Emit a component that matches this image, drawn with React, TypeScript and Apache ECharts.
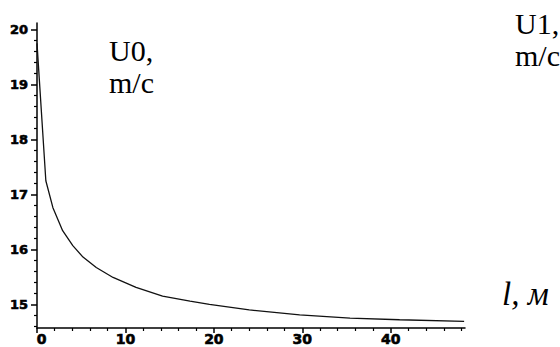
import React, { useEffect, useRef } from "react";
import * as echarts from "echarts";

// Data
const lengthValues = [0, 1.0, 1.8, 2.9, 4.05, 5.2, 6.7, 8.6, 11.2, 14.2, 17.3, 19.5, 24, 29.7, 35.4, 41, 48.3];
const u0Values = [19.75, 17.25, 16.76, 16.34, 16.07, 15.86, 15.67, 15.49, 15.31, 15.15, 15.06, 15.0, 14.9, 14.81, 14.75, 14.72, 14.69];

const xMajorTicks = [0, 10, 20, 30, 40];
const yMajorTicks = [15, 16, 17, 18, 19, 20];

const X_MIN = 0;
const X_MAX = 48.4;
const Y_MIN = 14.57;
const Y_MAX = 20.12;

function minorTicks(from: number, to: number, step: number, majors: number[]) {
  const out: number[] = [];
  for (let v = from; v <= to + 1e-9; v += step) {
    const r = Math.round(v * 100) / 100;
    if (!majors.some((m) => Math.abs(m - r) < 1e-6)) out.push(r);
  }
  return out;
}

const xMinorTicks = minorTicks(0, 48, 2, xMajorTicks);
const yMinorTicks = minorTicks(14.6, 20, 0.2, yMajorTicks);

export default function App() {
  const ref = useRef<HTMLDivElement>(null);
  useEffect(() => {
    if (!ref.current) return;
    const chart = echarts.init(ref.current, undefined, { renderer: "svg" });
    const axisColor = "#000";
    const labelFont = {
      fontFamily: "'DejaVu Sans', sans-serif",
      fontWeight: 900,
      color: "#000",
      textBorderColor: "#000",
      textBorderWidth: 0.6,
    };
    chart.setOption({
      animation: false,
      backgroundColor: "#fff",
      grid: { left: 37, right: 95, top: 23, bottom: 19, containLabel: false },
      xAxis: [
        {
          type: "value",
          min: X_MIN,
          max: X_MAX,
          position: "bottom",
          axisLine: { show: true, onZero: false, lineStyle: { color: axisColor, width: 1.5 } },
          axisTick: { show: true, length: 5, customValues: xMajorTicks, lineStyle: { color: axisColor, width: 1.5 } },
          axisLabel: {
            ...labelFont,
            fontSize: 14,
            margin: 4,
            customValues: xMajorTicks,
            formatter: (v: number) => (v === 0 ? "{z|0}" : String(v)),
            rich: { z: { ...labelFont, fontSize: 14, padding: [0, 0, 0, 9] } },
          },
          splitLine: { show: false },
        },
        {
          type: "value",
          min: X_MIN,
          max: X_MAX,
          position: "bottom",
          axisLine: { show: false },
          axisTick: { show: true, length: 3, customValues: xMinorTicks, lineStyle: { color: axisColor, width: 1.2 } },
          axisLabel: { show: false },
          splitLine: { show: false },
        },
      ],
      yAxis: [
        {
          type: "value",
          min: Y_MIN,
          max: Y_MAX,
          position: "left",
          axisLine: { show: true, onZero: false, lineStyle: { color: axisColor, width: 1.5 } },
          axisTick: { show: true, length: 6, customValues: yMajorTicks, lineStyle: { color: axisColor, width: 1.5 } },
          axisLabel: { ...labelFont, fontSize: 13, margin: 9, customValues: yMajorTicks },
          splitLine: { show: false },
        },
        {
          type: "value",
          min: Y_MIN,
          max: Y_MAX,
          position: "left",
          axisLine: { show: false },
          axisTick: { show: true, length: 3, customValues: yMinorTicks, lineStyle: { color: axisColor, width: 1.2 } },
          axisLabel: { show: false },
          splitLine: { show: false },
        },
      ],
      series: [
        {
          type: "line",
          xAxisIndex: 0,
          yAxisIndex: 0,
          data: lengthValues.map((x, i) => [x, u0Values[i]]),
          showSymbol: false,
          symbol: "none",
          lineStyle: { color: "#111", width: 1.3 },
        },
      ],
      graphic: [
        { type: "text", x: 109, y: 35, style: { text: "U0,", font: "30px 'Liberation Serif'", fill: "#000", verticalAlign: "top" } },
        { type: "text", x: 109, y: 67, style: { text: "m/c", font: "30px 'Liberation Serif'", fill: "#000", verticalAlign: "top" } },
        { type: "text", x: 515, y: 8, style: { text: "U1,", font: "30px 'Liberation Serif'", fill: "#000", verticalAlign: "top" } },
        { type: "text", x: 515, y: 40, style: { text: "m/c", font: "30px 'Liberation Serif'", fill: "#000", verticalAlign: "top" } },
        { type: "text", x: 502, y: 277, style: { text: "l, м", font: "italic 33px 'Liberation Serif'", fill: "#000", verticalAlign: "top" } },
      ],
    });
    return () => chart.dispose();
  }, []);
  return <div ref={ref} style={{ position: "fixed", left: 0, top: 0, width: 560, height: 347 }} />;
}
